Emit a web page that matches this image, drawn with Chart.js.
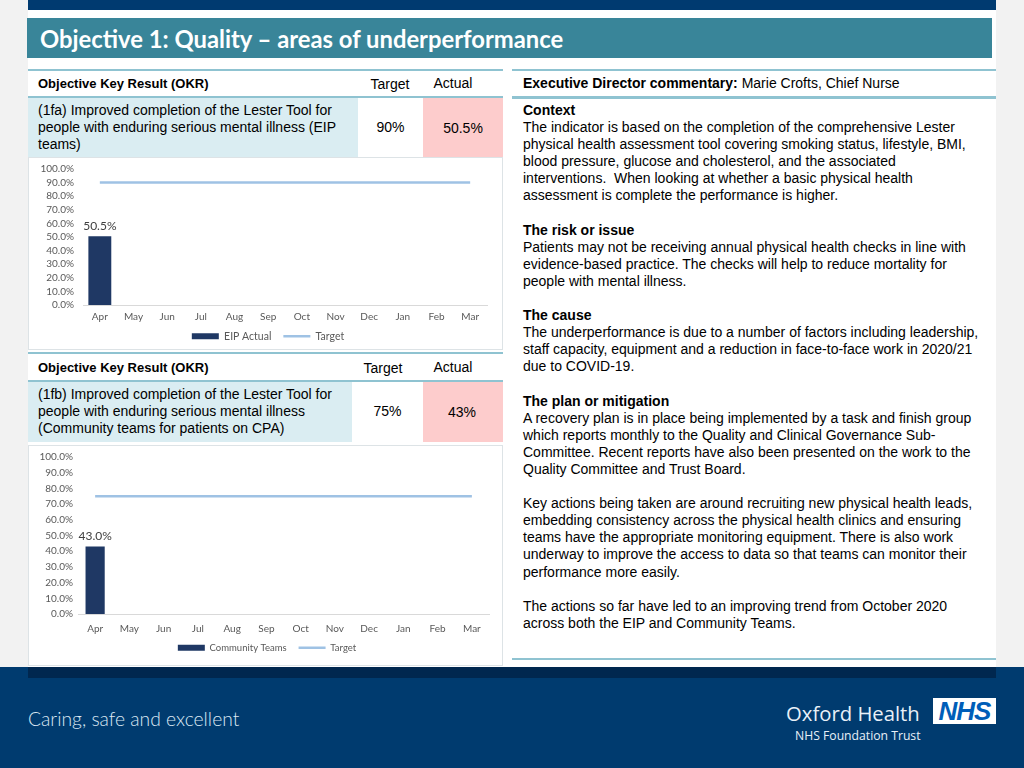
<!DOCTYPE html>
<html>
<head>
<meta charset="utf-8">
<script src="https://cdn.jsdelivr.net/npm/chart.js@4.4.1/dist/chart.umd.min.js"></script>
<style>
  body { margin: 0; width: 1024px; height: 768px; background: #f2f2f2; position: relative; overflow: hidden; font-family: "Liberation Sans", Arial, sans-serif; color: #000; }
  .abs { position: absolute; }
  .slide { left: 28px; top: 0; width: 968px; height: 667px; background: #fff; }
  .topbar { left: 28px; top: 0; width: 968px; height: 10px; background: #003a70; }
  .title { left: 27px; top: 18px; width: 965px; height: 40px; background: #398599; color: #fff; font-family: Lato, sans-serif; font-weight: bold; font-size: 23.8px; line-height: 40px; padding: 1px 0 0 13px; box-sizing: border-box; }
  .hline { height: 0; border-top: 2px solid #8fc3d1; }
  .hdr { font-size: 13px; font-weight: bold; }
  .cell { font-size: 14px; line-height: 17px; }
  .num { font-size: 14px; line-height: 17px; text-align: center; }
  .comment { left: 523px; top: 102px; font-size: 14px; line-height: 17.1px; white-space: nowrap; }
  .chartbox { left: 28px; width: 475px; background: #fff; border: 1px solid #dde3e6; box-sizing: border-box; }
  .footer { left: 0; top: 667px; width: 1024px; height: 101px; background: #003b6f; }
  .footband { left: 28px; top: 667px; width: 968px; height: 11px; background: #00274f; }
</style>
</head>
<body>
<div class="abs slide"></div>
<div class="abs topbar"></div>
<div class="abs title">Objective 1: Quality – areas of underperformance</div>

<!-- left table, first OKR -->
<div class="abs hline" style="left:28px;top:69px;width:475px;"></div>
<div class="abs hdr" style="left:38px;top:76px;">Objective Key Result (OKR)</div>
<div class="abs num" style="left:360px;top:76px;width:60px;">Target</div>
<div class="abs num" style="left:423px;top:75px;width:60px;">Actual</div>
<div class="abs hline" style="left:28px;top:96px;width:475px;"></div>
<div class="abs" style="left:28px;top:98px;width:330px;height:59px;background:#daedf2;"></div>
<div class="abs" style="left:423px;top:98px;width:80px;height:59px;background:#fdcccc;"></div>
<div class="abs cell" style="left:38px;top:102px;">(1fa) Improved completion of the Lester Tool for<br>people with enduring serious mental illness (EIP<br>teams)</div>
<div class="abs num" style="left:358px;top:119px;width:65px;">90%</div>
<div class="abs num" style="left:423px;top:120px;width:80px;">50.5%</div>
<div class="abs chartbox" style="top:157px;height:193px;"></div>
<canvas id="eipChart" class="abs" style="left:29px;top:154px;"></canvas>

<!-- left table, second OKR -->
<div class="abs hline" style="left:28px;top:352px;width:475px;"></div>
<div class="abs hdr" style="left:38px;top:360px;">Objective Key Result (OKR)</div>
<div class="abs num" style="left:353px;top:360px;width:60px;">Target</div>
<div class="abs num" style="left:423px;top:359px;width:60px;">Actual</div>
<div class="abs hline" style="left:28px;top:380px;width:475px;"></div>
<div class="abs" style="left:28px;top:382px;width:324px;height:60px;background:#daedf2;"></div>
<div class="abs" style="left:423px;top:382px;width:80px;height:60px;background:#fdcccc;"></div>
<div class="abs cell" style="left:38px;top:386px;">(1fb) Improved completion of the Lester Tool for<br>people with enduring serious mental illness<br>(Community teams for patients on CPA)</div>
<div class="abs num" style="left:352px;top:403px;width:71px;">75%</div>
<div class="abs num" style="left:423px;top:404px;width:78px;">43%</div>
<div class="abs chartbox" style="top:445px;height:221px;"></div>
<canvas id="communityChart" class="abs" style="left:29px;top:446px;"></canvas>

<!-- right column -->
<div class="abs hline" style="left:512px;top:69px;width:484px;"></div>
<div class="abs" style="left:523px;top:75px;font-size:14px;"><b>Executive Director commentary:</b> Marie Crofts, Chief Nurse</div>
<div class="abs hline" style="left:512px;top:96px;width:484px;border-top-width:3px;"></div>
<div class="abs comment">
<b>Context</b><br>
The indicator is based on the completion of the comprehensive Lester<br>
physical health assessment tool covering smoking status, lifestyle, BMI,<br>
blood pressure, glucose and cholesterol, and the associated<br>
interventions.&nbsp; When looking at whether a basic physical health<br>
assessment is complete the performance is higher.<br>
<br>
<b>The risk or issue</b><br>
Patients may not be receiving annual physical health checks in line with<br>
evidence-based practice. The checks will help to reduce mortality for<br>
people with mental illness.<br>
<br>
<b>The cause</b><br>
The underperformance is due to a number of factors including leadership,<br>
staff capacity, equipment and a reduction in face-to-face work in 2020/21<br>
due to COVID-19.<br>
<br>
<b>The plan or mitigation</b><br>
A recovery plan is in place being implemented by a task and finish group<br>
which reports monthly to the Quality and Clinical Governance Sub-<br>
Committee. Recent reports have also been presented on the work to the<br>
Quality Committee and Trust Board.<br>
<br>
Key actions being taken are around recruiting new physical health leads,<br>
embedding consistency across the physical health clinics and ensuring<br>
teams have the appropriate monitoring equipment. There is also work<br>
underway to improve the access to data so that teams can monitor their<br>
performance more easily.<br>
<br>
The actions so far have led to an improving trend from October 2020<br>
across both the EIP and Community Teams.
</div>
<div class="abs hline" style="left:512px;top:658px;width:484px;"></div>

<!-- footer -->
<div class="abs footer"></div>
<div class="abs footband"></div>
<div class="abs" style="left:28px;top:707px;color:#dce8f3;font-family:Lato,sans-serif;font-weight:300;font-size:19.3px;">Caring, safe and excellent</div>
<div class="abs" style="left:786px;top:699px;color:#e8f0f8;font-family:'Open Sans',sans-serif;font-size:20.3px;">Oxford Health</div>
<div class="abs" style="left:795px;top:727px;color:#e8f0f8;font-family:'Open Sans',sans-serif;font-size:12.2px;">NHS Foundation Trust</div>
<div class="abs" style="left:933px;top:698px;width:63px;height:26px;background:#fff;color:#005eb8;font-family:'Liberation Sans',Arial,sans-serif;font-weight:bold;font-style:italic;font-size:26px;line-height:26px;text-align:center;letter-spacing:-1px;">NHS</div>

<script>
// Months of the financial year
const months = ['Apr', 'May', 'Jun', 'Jul', 'Aug', 'Sep', 'Oct', 'Nov', 'Dec', 'Jan', 'Feb', 'Mar'];

// EIP teams (1fa)
const eipActual = [50.5, null, null, null, null, null, null, null, null, null, null, null];
const eipTarget = [90, 90, 90, 90, 90, 90, 90, 90, 90, 90, 90, 90];

// Community teams (1fb)
const communityActual = [43.0, null, null, null, null, null, null, null, null, null, null, null];
const communityTarget = [75, 75, 75, 75, 75, 75, 75, 75, 75, 75, 75, 75];

const axisColor = '#595959';
const chartFont = 'Lato, sans-serif';

// Draws the value label above each bar
const barLabelPlugin = {
    id: 'barLabel',
    afterDatasetsDraw(chart) {
        const ctx = chart.ctx;
        const meta = chart.getDatasetMeta(0);
        ctx.save();
        ctx.font = '12px ' + chartFont;
        ctx.fillStyle = '#404040';
        ctx.textAlign = 'center';
        ctx.textBaseline = 'middle';
        meta.data.forEach((bar, i) => {
            const v = chart.data.datasets[0].data[i];
            if (v === null) return;
            ctx.fillText(v.toFixed(1) + '%', bar.x, bar.y - 10);
        });
        ctx.restore();
    }
};

// Fixes the legend height and nudges it, like the Excel chart
function legendSizePlugin(height, dx, dy) {
    return {
        id: 'legendSize',
        beforeLayout(chart) {
            const legend = chart.legend;
            if (!legend || legend._sized) return;
            const fit = legend.fit;
            legend.fit = function () {
                fit.call(this);
                this.height = height;
            };
            legend._sized = true;
        },
        afterLayout(chart) {
            const legend = chart.legend;
            legend.left += dx;
            legend.right += dx;
            legend.top += dy;
            legend.bottom += dy;
        }
    };
}

function makeChart(id, actualLabel, actual, target, cfg) {
    const canvas = document.getElementById(id);
    canvas.width = cfg.width;
    canvas.height = cfg.height;
    return new Chart(canvas.getContext('2d'), {
        type: 'bar',
        data: {
            labels: months,
            datasets: [{
                label: actualLabel,
                data: actual,
                backgroundColor: '#1f3864',
                borderWidth: 0,
                barPercentage: cfg.barPct,
                categoryPercentage: 1,
                pointStyle: 'rect'
            }, {
                type: 'line',
                label: 'Target',
                data: target,
                borderColor: '#9fc2e4',
                backgroundColor: '#9fc2e4',
                borderWidth: 2.5,
                pointRadius: 0,
                pointStyle: 'line'
            }]
        },
        options: {
            responsive: false,
            animation: false,
            layout: { padding: { left: 0, right: cfg.padRight, top: cfg.padTop, bottom: 0 } },
            scales: {
                x: {
                    grid: { display: false, drawTicks: false },
                    border: { color: '#d9d9d9' },
                    afterFit: function (scale) { scale.height = cfg.xHeight; },
                    ticks: { color: axisColor, font: { family: chartFont, size: 10 }, padding: cfg.xPad, maxRotation: 0, autoSkip: false }
                },
                y: {
                    min: 0,
                    max: 100,
                    grid: { display: false, drawTicks: false },
                    border: { display: false },
                    afterFit: function (scale) { scale.width = cfg.yWidth; },
                    ticks: {
                        stepSize: 10,
                        autoSkip: false,
                        color: axisColor,
                        font: { family: chartFont, size: 10 },
                        padding: cfg.yPad,
                        callback: function (value) { return value.toFixed(1) + '%'; }
                    }
                }
            },
            plugins: {
                legend: {
                    position: 'bottom',
                    labels: {
                        usePointStyle: true,
                        pointStyleWidth: 27,
                        boxHeight: 6,
                        color: axisColor,
                        padding: cfg.legendPad,
                        font: { family: chartFont, size: cfg.legendFont }
                    }
                },
                tooltip: { enabled: false }
            }
        },
        plugins: [barLabelPlugin, legendSizePlugin(cfg.legendHeight, cfg.legendDx, cfg.legendDy)]
    });
}

makeChart('eipChart', 'EIP Actual', eipActual, eipTarget, {
    width: 473, height: 197, barPct: 0.68, padRight: 15, padTop: 11,
    yWidth: 54, yPad: 9, xPad: 6, xHeight: 18,
    legendPad: 12, legendFont: 10.5, legendHeight: 28, legendDx: 10, legendDy: -4
});

makeChart('communityChart', 'Community Teams', communityActual, communityTarget, {
    width: 473, height: 219, barPct: 0.56, padRight: 13, padTop: 11,
    yWidth: 49, yPad: 5, xPad: 9, xHeight: 21,
    legendPad: 12, legendFont: 9.5, legendHeight: 30, legendDx: 8, legendDy: -4
});
</script>
</body>
</html>
